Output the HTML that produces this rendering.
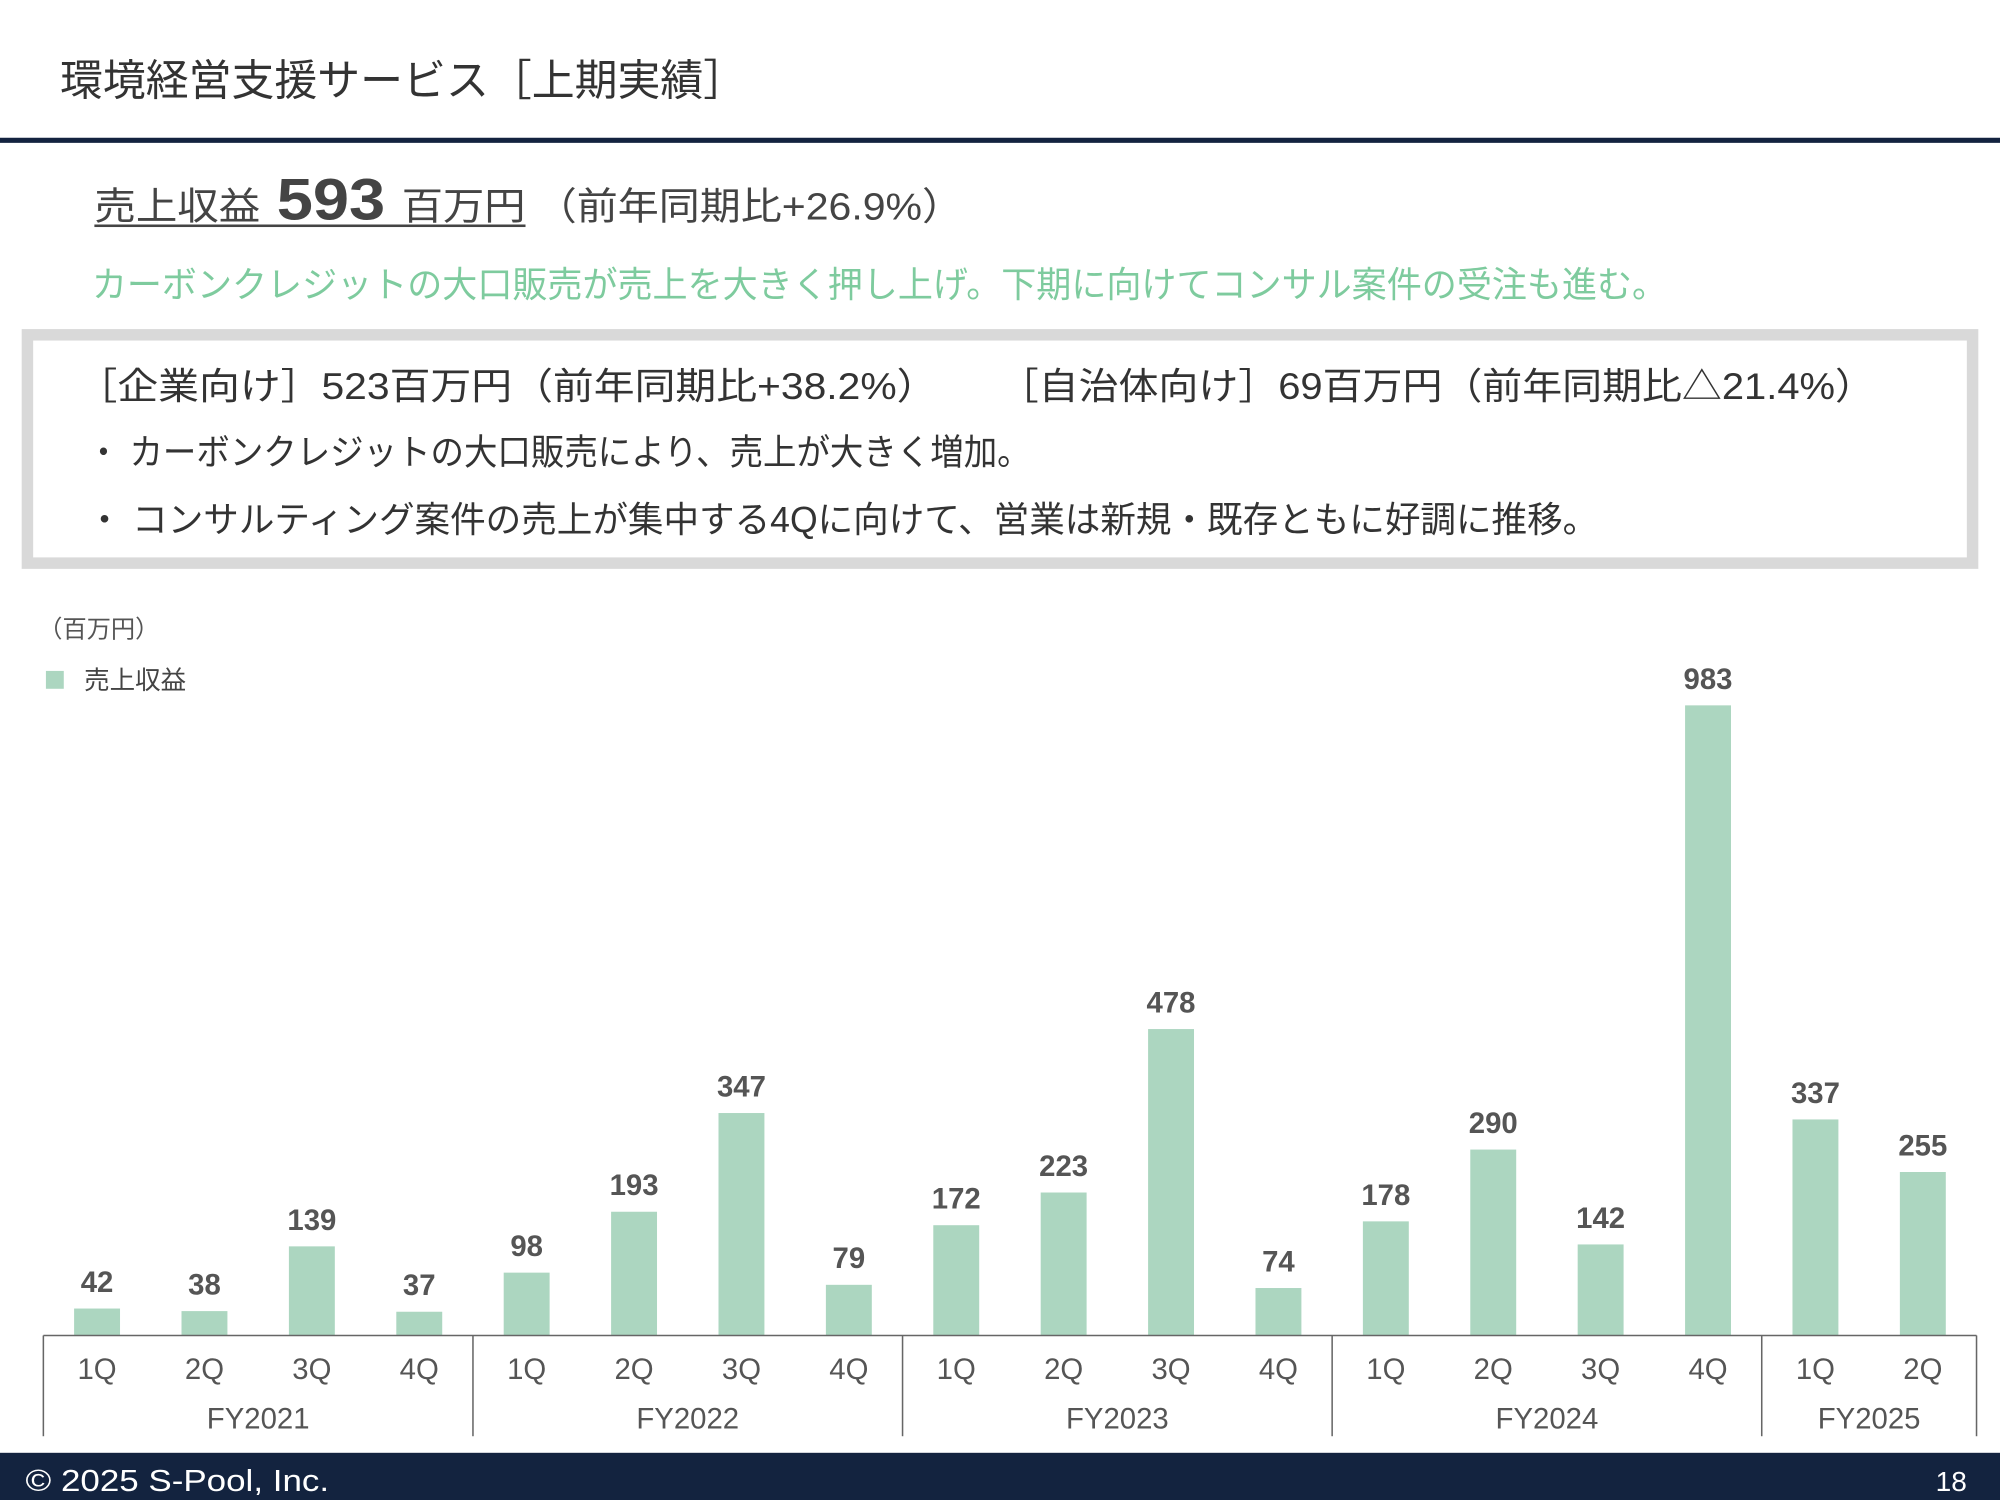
<!DOCTYPE html>
<html><head><meta charset="utf-8"><style>
html,body{margin:0;padding:0;background:#fff;}
svg{display:block;font-family:"Liberation Sans","Noto Sans CJK JP",sans-serif;}
</style></head><body>
<svg id="chart" width="2000" height="1500" viewBox="0 0 1568 1176" xmlns="http://www.w3.org/2000/svg">
<text x="47" y="75" font-size="34" fill="#333" textLength="538" lengthAdjust="spacingAndGlyphs">環境経営支援サービス［上期実績］</text>
<rect x="0" y="108" width="1568" height="4" fill="#13233f"/>
<g fill="#444">
<text x="74" y="172" font-size="30" textLength="130" lengthAdjust="spacingAndGlyphs">売上収益</text>
<text x="217" y="172" font-size="46" font-weight="bold" textLength="85" lengthAdjust="spacingAndGlyphs">593</text>
<text x="315" y="172" font-size="30" textLength="97" lengthAdjust="spacingAndGlyphs">百万円</text>
<text x="420" y="172" font-size="30" textLength="335" lengthAdjust="spacingAndGlyphs">（前年同期比+26.9%）</text>
</g>
<rect x="74" y="176" width="338" height="2" fill="#444"/>
<text x="72" y="233" font-size="28" fill="#7ecb9e" textLength="1235" lengthAdjust="spacingAndGlyphs">カーボンクレジットの大口販売が売上を大きく押し上げ。下期に向けてコンサル案件の受注も進む。</text>
<rect x="21.5" y="262.5" width="1525" height="179" fill="#fff" stroke="#d9d9d9" stroke-width="9"/>
<text x="60" y="313" font-size="29" fill="#333" textLength="675" lengthAdjust="spacingAndGlyphs">［企業向け］523百万円（前年同期比+38.2%）</text>
<text x="783" y="313" font-size="29" fill="#333" textLength="687" lengthAdjust="spacingAndGlyphs">［自治体向け］69百万円（前年同期比△21.4%）</text>
<text x="68" y="364" font-size="28" fill="#333" textLength="740" lengthAdjust="spacingAndGlyphs">・ カーボンクレジットの大口販売により、売上が大きく増加。</text>
<text x="68" y="417" font-size="28" fill="#333" textLength="1185" lengthAdjust="spacingAndGlyphs">・ コンサルティング案件の売上が集中する4Qに向けて、営業は新規・既存ともに好調に推移。</text>
<text x="30" y="500" font-size="19" fill="#555">（百万円）</text>
<rect x="36" y="526" width="14" height="14" fill="#acd6c0"/>
<text x="66" y="540" font-size="20" fill="#444">売上収益</text>
<g id="bars"></g><g id="axis"></g>
<rect x="0" y="1139" width="1568" height="37" fill="#13233f"/>
<text x="20" y="1169" font-size="24" fill="#fff" textLength="238" lengthAdjust="spacingAndGlyphs">© 2025  S-Pool, Inc.</text>
<text x="1542" y="1169" font-size="22" fill="#fff" text-anchor="end">18</text>
</svg>
<script>
const quarters = ["1Q","2Q","3Q","4Q","1Q","2Q","3Q","4Q","1Q","2Q","3Q","4Q","1Q","2Q","3Q","4Q","1Q","2Q"];
const fiscalYears = ["FY2021","FY2022","FY2023","FY2024","FY2025"];
const fyCounts = [4,4,4,4,2];
const revenue = [42,38,139,37,98,193,347,79,172,223,478,74,178,290,142,983,337,255];
const NS="http://www.w3.org/2000/svg";
const baseY=1047, x0=34, step=84.2, bw=36, yScale=494/983;
function xC(i){return x0+step*(i+0.5);}
function yV(v){return baseY-v*yScale;}
function mk(tag,attrs,parent,txt){const e=document.createElementNS(NS,tag);for(const k in attrs)e.setAttribute(k,attrs[k]);if(txt!==undefined)e.textContent=txt;parent.appendChild(e);return e;}
const bars=document.getElementById('bars'), axis=document.getElementById('axis');
revenue.forEach((v,i)=>{
  const r=mk('rect',{x:xC(i)-bw/2,y:yV(v),width:bw,height:baseY-yV(v),fill:'#acd6c0'},bars);
  
  
  const t=mk('text',{x:xC(i),y:yV(v)-13,'font-size':23,'font-weight':'bold',fill:'#555','text-anchor':'middle'},bars,String(v));
  
  
  const q=mk('text',{x:xC(i),y:1081,'font-size':23,fill:'#555','text-anchor':'middle'},axis,quarters[i]);
  
  
});
const xEnd=x0+step*revenue.length;
const ax=mk('line',{x1:x0,y1:baseY,x2:xEnd,y2:baseY,stroke:'#666','stroke-width':1.2},axis);


let idx=0;
fiscalYears.forEach((fy,k)=>{
  const s=x0+step*idx, e=x0+step*(idx+fyCounts[k]);
  const l=mk('line',{x1:s,y1:baseY,x2:s,y2:1126,stroke:'#666','stroke-width':1.2},axis);
  
  
  const t=mk('text',{x:(s+e)/2,y:1120,'font-size':23,fill:'#555','text-anchor':'middle'},axis,fy);
  
  
  idx+=fyCounts[k];
});
const le=mk('line',{x1:xEnd,y1:baseY,x2:xEnd,y2:1126,stroke:'#666','stroke-width':1.2},axis);


</script>
</body></html>
